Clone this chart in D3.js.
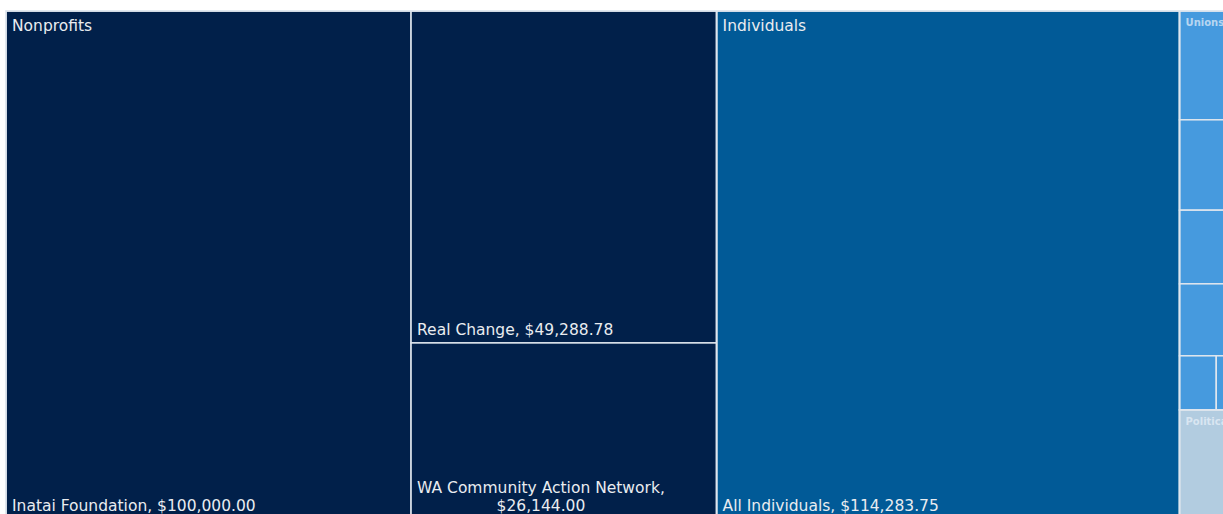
<!DOCTYPE html>
<html>
<head>
<meta charset="utf-8">
<script src="https://cdn.jsdelivr.net/npm/d3@7"></script>
<style>
html,body{margin:0;padding:0;background:#fff;overflow:hidden;}
svg{display:block;}
text{font-family:"DejaVu Sans",Verdana,sans-serif;}
</style>
</head>
<body>
<svg id="chart" width="1223" height="514"></svg>
<script>
// ---- data ----
const groups = ["Nonprofits", "Individuals", "Unions", "Political Committees"];
const groupColors = ["#01204a", "#015a97", "#469ade", "#b2cce0"];

const nonprofitNames = ["Inatai Foundation", "Real Change", "WA Community Action Network"];
const nonprofitValues = [100000.00, 49288.78, 26144.00];

const individualNames = ["All Individuals"];
const individualValues = [114283.75];

const unionNames = ["Union 1", "Union 2", "Union 3", "Union 4", "Union 5", "Union 6"];
const unionValues = [3250, 2700, 2200, 2150, 965, 650];

const politicalNames = ["All Political Committees"];
const politicalValues = [3260];

// ---- build hierarchy ----
const childNames = [nonprofitNames, individualNames, unionNames, politicalNames];
const childValues = [nonprofitValues, individualValues, unionValues, politicalValues];
const rootData = {
  name: "root",
  children: groups.map((g, i) => ({
    name: g,
    color: groupColors[i],
    children: childNames[i].map((n, j) => ({ name: n, value: childValues[i][j] }))
  }))
};

const X0 = 6, Y0 = 11, X1 = 1241, Y1 = 519;
const FS = 15.5;

const root = d3.hierarchy(rootData).sum(d => d.value || 0);

// squarify everywhere, except the narrow Unions column (rows, last two side by side)
function tile(node, x0, y0, x1, y1) {
  if (node.data.name === "Unions") {
    const kids = node.children;
    const total = node.value;
    let y = y0;
    const n = kids.length;
    for (let i = 0; i < n - 2; i++) {
      const h = (y1 - y0) * kids[i].value / total;
      kids[i].x0 = x0; kids[i].x1 = x1; kids[i].y0 = y; kids[i].y1 = y + h;
      y += h;
    }
    const last = kids.slice(n - 2);
    const lv = d3.sum(last, d => d.value);
    let x = x0;
    last.forEach(k => {
      const w = (x1 - x0) * k.value / lv;
      k.x0 = x; k.x1 = x + w; k.y0 = y; k.y1 = y1;
      x += w;
    });
  } else {
    d3.treemapSquarify(node, x0, y0, x1, y1);
  }
}

d3.treemap().tile(tile).size([X1 - X0, Y1 - Y0])(root);

const svg = d3.select("#chart");
const g = svg.append("g").attr("transform", `translate(${X0},${Y0})`);

const fmt = d3.format("$,.2f");
const colorOf = d => d.depth === 1 ? d.data.color : d.parent.data.color;

// leaves
const leaves = g.selectAll("g.leaf").data(root.leaves()).join("g").attr("class", "leaf");
leaves.append("rect")
  .attr("x", d => d.x0).attr("y", d => d.y0)
  .attr("width", d => d.x1 - d.x0).attr("height", d => d.y1 - d.y0)
  .attr("fill", colorOf)
  .attr("stroke", "#dfe6ee").attr("stroke-width", 1.5);

// group outlines
g.selectAll("rect.grp").data(root.children).join("rect").attr("class", "grp")
  .attr("x", d => d.x0).attr("y", d => d.y0)
  .attr("width", d => d.x1 - d.x0).attr("height", d => d.y1 - d.y0)
  .attr("fill", "none").attr("stroke", "#dfe6ee").attr("stroke-width", 1.5);

// leaf labels (only for large leaves)
leaves.filter(d => (d.x1 - d.x0) > 120 && (d.y1 - d.y0) > 60).each(function(d) {
  const sel = d3.select(this);
  const label = d.data.name + ", " + fmt(d.value);
  const maxW = d.x1 - d.x0 - 12;
  const t = sel.append("text")
    .attr("x", d.x0 + 6).attr("y", d.y1 - 8)
    .attr("fill", "#e9ecf0").attr("font-size", FS).text(label);
  if (t.node().getComputedTextLength() > maxW) {
    t.remove();
    const lines = [d.data.name + ",", fmt(d.value)];
    const widths = lines.map(l => {
      const tt = sel.append("text").attr("font-size", FS).text(l);
      const w = tt.node().getComputedTextLength();
      tt.remove();
      return w;
    });
    const bw = d3.max(widths);
    const cx = d.x0 + 6 + bw / 2;
    const lh = 18;
    lines.forEach((l, i) => {
      sel.append("text")
        .attr("x", cx).attr("y", d.y1 - 8 - (lines.length - 1 - i) * lh)
        .attr("text-anchor", "middle")
        .attr("fill", "#e9ecf0").attr("font-size", FS).text(l);
    });
  }
});

// group labels
g.selectAll("text.glabel").data(root.children).join("text").attr("class", "glabel")
  .attr("x", d => d.x0 + 6)
  .attr("y", d => (d.x1 - d.x0) > 100 ? d.y0 + 20 : d.y0 + 15)
  .attr("font-size", d => (d.x1 - d.x0) > 100 ? FS : 10)
  .attr("font-weight", d => (d.x1 - d.x0) > 100 ? "normal" : "bold")
  .attr("fill", d => (d.x1 - d.x0) > 100 ? "#e9ecf0" : "rgba(235,242,250,0.7)")
  .text(d => d.data.name);
</script>
</body>
</html>
